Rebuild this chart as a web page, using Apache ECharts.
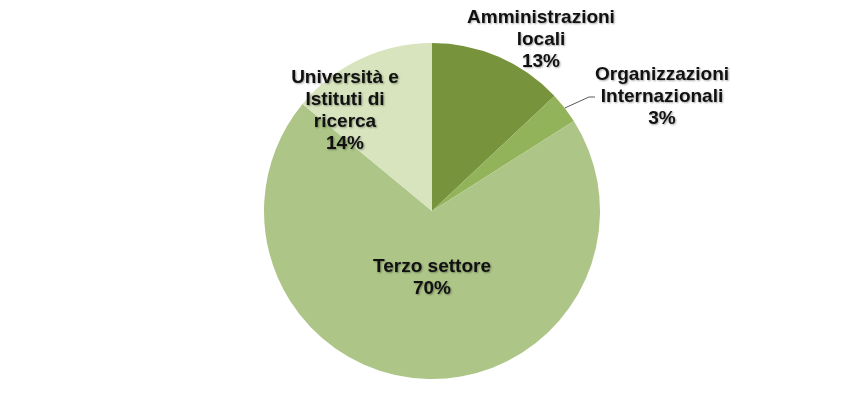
<!DOCTYPE html>
<html>
<head>
<meta charset="utf-8">
<script src="https://cdn.jsdelivr.net/npm/echarts@6/dist/echarts.min.js"></script>
<style>html,body{margin:0;padding:0;background:#fff;}#c{width:842px;height:405px;}</style>
</head>
<body>
<div id="c"></div>
<script>
const categories = ["Amministrazioni\nlocali", "Organizzazioni\nInternazionali", "Terzo settore", "Università e\nIstituti di\nricerca"];
const values = [13, 3, 70, 14];
const colors = ["#77933C", "#93B35A", "#ADC687", "#D7E4BD"];
const labelPos = [[541, 40], [662, 97], [432, 278], [345, 111]];

const chart = echarts.init(document.getElementById('c'), null, {renderer: 'canvas'});
chart.setOption({
  backgroundColor: '#ffffff',
  animation: false,
  series: [{
    type: 'pie',
    center: [432, 211],
    radius: [0, 168],
    startAngle: 90,
    clockwise: true,
    data: categories.map((n, i) => ({
      name: n, value: values[i],
      itemStyle: {color: colors[i]},
      labelLine: {show: i === 1, length: 8, length2: 6, lineStyle: {color: '#5a5a5a', width: 1}}
    })),
    itemStyle: {borderWidth: 0},
    label: {
      show: true,
      position: 'outside',
      formatter: p => p.name + '\n' + p.value + '%',
      fontFamily: 'Liberation Sans, Arial, sans-serif',
      fontWeight: 'bold',
      fontSize: 19,
      lineHeight: 22,
      color: '#111',
      align: 'center',
      textShadowColor: 'rgba(0,0,0,0.35)',
      textShadowBlur: 2,
      textShadowOffsetX: 1,
      textShadowOffsetY: 1
    },
    labelLayout: function (p) {
      const pos = labelPos[p.dataIndex];
      return {x: pos[0], y: pos[1], align: 'center', verticalAlign: 'middle'};
    }
  }]
});
</script>
</body>
</html>
